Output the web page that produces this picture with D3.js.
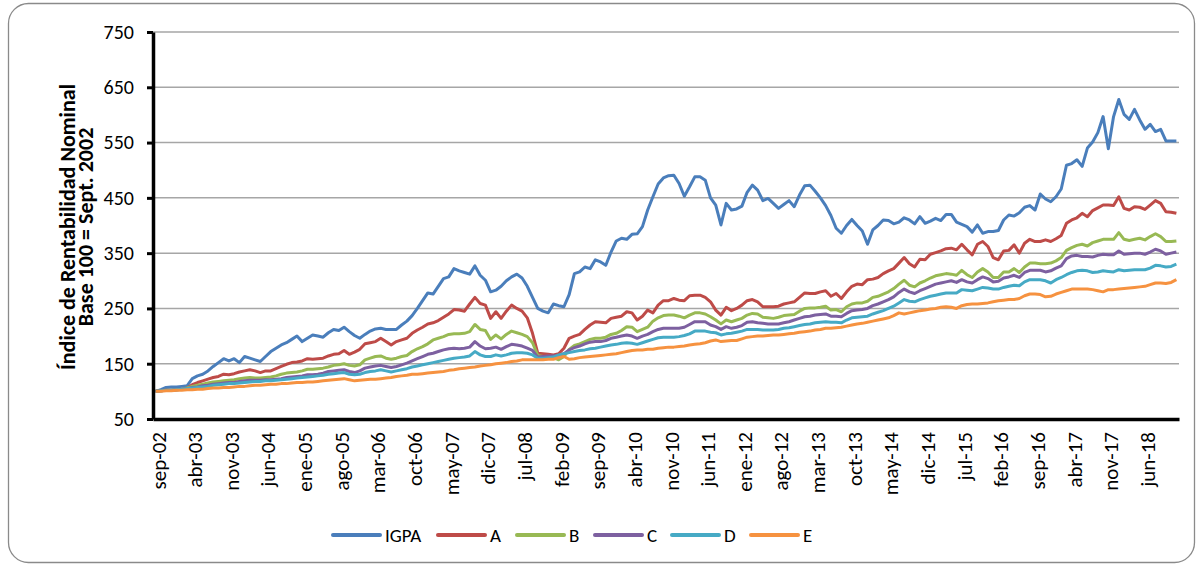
<!DOCTYPE html>
<html>
<head>
<meta charset="utf-8">
<script src="https://d3js.org/d3.v7.min.js"></script>
<style>
  body { margin: 0; background: #fff; }
  svg text { font-family: Carlito, Calibri, Lato, sans-serif; fill: #000; }
</style>
</head>
<body>
<svg width="1201" height="567"></svg>
<script>
// monthly index values, sep-02 .. dic-18 (base 100 = sept. 2002)
var igpa = [
  100,103,107,108,108,109,110,123,128,131, 137,145,152,159,155,159,152,163,160,157,
  154,163,172,178,184,188,194,200,190,196, 202,200,198,206,212,210,216,208,201,196,
  203,209,213,214,212,212,212,220,227,237, 250,264,278,276,290,304,307,322,318,315,
  312,327,310,301,280,283,290,300,307,312, 305,290,270,250,245,242,258,255,253,275,
  313,316,325,322,338,334,328,352,372,377, 375,384,385,398,428,452,475,486,490,491,
  476,453,470,488,488,482,450,437,401,440, 428,430,435,460,473,464,445,449,440,431,
  438,445,434,455,472,473,462,450,436,418, 395,386,400,411,400,390,366,392,400,410,
  409,403,406,414,410,403,416,404,408,413, 409,420,420,406,402,398,388,401,386,389,
  389,391,410,419,417,423,433,436,428,457, 448,443,452,466,509,512,519,507,540,551,
  568,597,539,597,628,601,592,610,591,574, 583,570,574,553,553,553
];
var fondoA = [
  100,101,102,102,103,104,106,112,116,119, 122,125,127,131,130,132,135,137,139,137,
  134,137,137,141,145,149,152,153,155,159, 158,159,160,164,167,168,174,167,171,176,
  186,188,190,196,190,184,190,193,196,205, 211,216,222,224,228,234,240,248,247,245,
  258,270,259,256,232,244,232,245,256,250, 245,233,205,169,168,167,166,168,178,196,
  200,203,212,220,226,225,224,232,234,236, 244,242,229,236,247,242,256,264,264,268,
  265,264,273,274,274,270,262,247,238,252, 246,250,256,264,266,262,253,253,253,254,
  258,260,262,270,278,277,277,280,282,272, 277,268,280,290,294,293,302,303,306,313,
  318,322,332,342,331,325,339,338,348,351, 354,358,359,356,366,356,347,366,371,362,
  342,338,354,355,365,350,368,375,371,371, 374,371,376,382,404,410,414,422,416,427,
  432,437,437,436,452,431,428,434,433,429, 437,445,440,425,424,422
];
var fondoB = [
  100,101,102,102,103,104,106,109,111,113, 115,117,118,119,120,121,123,124,125,124,
  124,125,126,128,131,133,134,135,137,140, 140,141,142,144,147,148,150,147,146,148,
  157,160,163,164,160,158,160,163,165,172, 177,181,186,193,196,199,203,204,204,205,
  208,221,212,210,194,202,195,203,209,206, 203,199,188,165,163,162,161,157,163,176,
  183,186,190,194,196,196,198,203,205,210, 217,216,208,212,216,227,233,237,238,238,
  236,233,238,242,242,240,235,229,222,229, 226,229,232,238,241,240,234,233,232,234,
  237,238,239,245,250,251,251,252,254,247, 248,244,253,258,260,260,263,270,272,276,
  280,286,294,301,292,289,296,300,305,309, 311,313,312,310,319,311,306,316,322,316,
  306,306,316,316,322,315,325,332,332,331, 331,332,336,342,355,360,364,366,363,369,
  372,375,375,375,387,375,373,375,377,374, 380,385,380,371,371,372
];
var fondoC = [
  100,101,102,102,103,104,105,107,108,110, 111,113,114,115,116,116,118,119,120,120,
  120,121,121,122,123,125,126,127,128,130, 130,131,133,136,137,138,139,136,134,137,
  142,144,146,147,145,143,145,148,151,155, 159,163,167,169,172,175,177,178,177,178,
  180,190,182,177,178,180,176,181,185,184, 182,178,174,162,163,164,164,165,168,175,
  179,182,186,189,190,190,192,196,198,200, 202,200,196,200,203,208,212,214,214,214,
  214,216,221,226,226,226,220,217,212,217, 214,216,219,225,226,224,223,222,222,222,
  224,226,229,232,235,236,238,239,240,236, 236,235,241,246,247,248,250,255,258,262,
  266,271,279,285,280,277,282,286,290,294, 296,298,300,297,302,298,296,302,307,304,
  298,299,305,307,310,306,315,319,319,319, 316,318,323,327,340,345,346,344,344,343,
  346,348,347,347,354,348,349,350,350,348, 352,357,354,348,350,352
];
var fondoD = [
  100,101,102,102,103,104,105,106,107,108, 109,111,112,113,114,114,115,116,117,118,
  118,119,119,120,121,122,123,124,125,126, 127,128,129,131,132,133,134,131,130,131,
  134,136,137,139,137,135,137,139,141,144, 146,148,150,152,154,156,158,160,161,162,
  164,172,166,163,163,166,164,166,169,170, 170,169,166,160,160,161,162,166,168,170,
  172,174,175,177,178,180,182,184,185,187, 188,187,185,188,191,194,197,198,198,198,
  199,201,204,209,209,209,207,206,202,204, 205,207,209,212,212,212,211,211,211,212,
  214,215,217,219,221,222,224,225,226,225, 225,224,229,233,234,235,236,240,243,246,
  250,254,260,266,263,262,266,269,272,274, 276,278,278,278,284,283,282,285,288,287,
  285,285,288,290,292,291,298,302,302,302, 300,296,302,306,311,315,318,319,318,315,
  316,318,317,316,320,318,319,320,320,320, 323,328,327,325,326,330
];
var fondoE = [
  100,100,101,101,102,102,103,103,104,104, 105,106,106,107,107,108,109,109,110,111,
  111,112,113,113,114,114,115,116,116,117, 117,118,119,120,121,122,123,121,119,120,
  121,122,122,123,124,125,127,128,129,131, 131,132,133,134,135,136,138,139,141,142,
  143,144,146,147,148,150,151,152,154,155, 157,157,157,157,157,158,158,161,163,158,
  159,161,162,163,164,165,166,167,168,170, 172,174,175,175,176,176,178,179,180,180,
  181,182,184,185,186,188,191,193,190,191, 192,192,195,198,199,200,200,201,202,202,
  203,204,205,207,208,209,211,212,214,214, 215,216,218,220,222,223,225,227,229,231,
  233,237,242,240,242,244,246,247,249,250, 252,253,252,250,255,257,258,258,259,260,
  262,264,265,266,266,268,273,276,276,275, 271,272,276,279,282,285,285,285,285,284,
  282,280,284,284,285,286,287,288,289,290, 293,296,296,295,297,302
];

var seriesNames = ["IGPA", "A", "B", "C", "D", "E"];
var seriesColors = ["#4A7EBB", "#BE4B48", "#98B954", "#7D60A0", "#46AAC5", "#F69240"];
var seriesValues = [igpa, fondoA, fondoB, fondoC, fondoD, fondoE];

var monthNames = ["ene","feb","mar","abr","may","jun","jul","ago","sep","oct","nov","dic"];
var months = [];
for (var k = 0; k < igpa.length; k++) {
  var mm = (8 + k) % 12, yy = 2002 + Math.floor((8 + k) / 12);
  months.push(monthNames[mm] + "-" + String(yy).slice(2));
}
var tickLabels = ["sep-02","abr-03","nov-03","jun-04","ene-05","ago-05","mar-06","oct-06",
  "may-07","dic-07","jul-08","feb-09","sep-09","abr-10","nov-10","jun-11","ene-12","ago-12",
  "mar-13","oct-13","may-14","dic-14","jul-15","feb-16","sep-16","abr-17","nov-17","jun-18"];
var yTicks = [50, 150, 250, 350, 450, 550, 650, 750];

var svg = d3.select("svg");

// outer frame
svg.append("rect")
  .attr("x", 8.5).attr("y", 3.5)
  .attr("width", 1186).attr("height", 559)
  .attr("rx", 20).attr("ry", 20)
  .attr("fill", "#fff")
  .attr("stroke", "#8a8a8a")
  .attr("stroke-width", 1.3);

var x = d3.scalePoint().domain(months).range([153, 1179]).padding(0.5);
var y = d3.scaleLinear().domain([50, 750]).range([419, 32]);

// gridlines
svg.append("g").selectAll("line")
  .data(yTicks.slice(1))
  .enter().append("line")
  .attr("x1", 153).attr("x2", 1179)
  .attr("y1", function(d) { return y(d); })
  .attr("y2", function(d) { return y(d); })
  .attr("stroke", "#a6a6a6")
  .attr("stroke-width", 1.5);

// lines
var line = d3.line()
  .x(function(d, i) { return x(months[i]); })
  .y(function(d) { return y(d); });

svg.append("g").selectAll("path")
  .data(seriesValues)
  .enter().append("path")
  .attr("d", line)
  .attr("fill", "none")
  .attr("stroke", function(d, i) { return seriesColors[i]; })
  .attr("stroke-width", 3)
  .attr("stroke-linejoin", "round");

// axes
var xAxis = svg.append("g")
  .attr("transform", "translate(0,419)")
  .call(d3.axisBottom(x).tickValues(tickLabels).tickSize(0).tickSizeOuter(0));
xAxis.select(".domain").attr("stroke", "#000").attr("stroke-width", 3.5);
xAxis.selectAll("text")
  .attr("transform", "rotate(-90)")
  .attr("x", -13).attr("y", 0).attr("dy", "0.45em")
  .style("text-anchor", "end")
  .style("font-size", "21px");

var yAxis = svg.append("g")
  .attr("transform", "translate(153,0)")
  .call(d3.axisLeft(y).tickValues(yTicks).tickSize(6).tickSizeOuter(0).tickPadding(13));
yAxis.select(".domain").attr("stroke", "#000").attr("stroke-width", 3.5);
yAxis.selectAll(".tick line").attr("stroke", "#000").attr("stroke-width", 3);
yAxis.selectAll("text").style("font-size", "20px");

// y title, two rotated lines
var titleLines = ["Índice de Rentabilidad Nominal", "Base 100 = Sept. 2002"];
var titleX = [75, 93];
svg.append("g").selectAll("text")
  .data(titleLines)
  .enter().append("text")
  .attr("transform", function(d, i) { return "translate(" + titleX[i] + ",227) rotate(-90)"; })
  .attr("text-anchor", "middle")
  .style("font-weight", "bold")
  .style("font-size", "22px")
  .text(function(d) { return d; });

// legend
var legendX = [333, 438, 517, 595, 672, 751];
var legend = svg.append("g").selectAll("g")
  .data(seriesNames)
  .enter().append("g")
  .attr("transform", function(d, i) { return "translate(" + legendX[i] + ",535)"; });
legend.append("line")
  .attr("x1", 0).attr("x2", 47)
  .attr("stroke", function(d, i) { return seriesColors[i]; })
  .attr("stroke-width", 4)
  .attr("stroke-linecap", "round");
legend.append("text")
  .attr("x", 52).attr("dy", "0.35em")
  .style("font-size", "19px")
  .text(function(d) { return d; });
</script>
</body>
</html>
